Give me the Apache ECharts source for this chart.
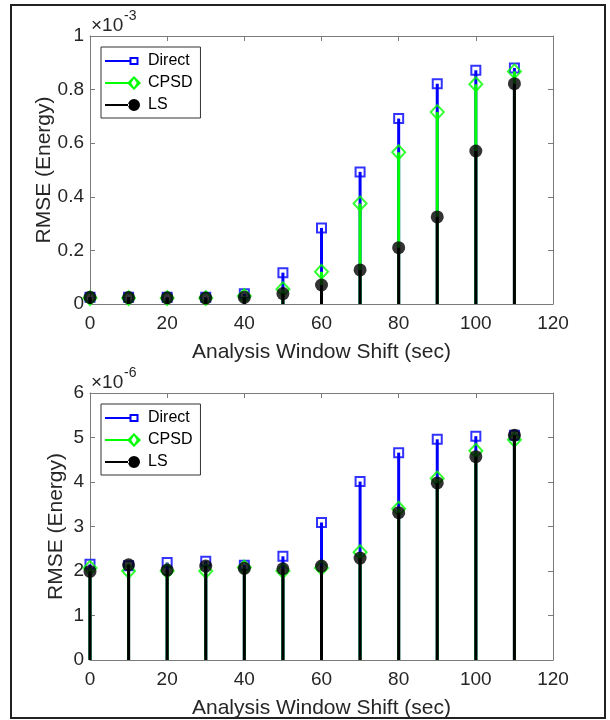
<!DOCTYPE html>
<html>
<head>
<meta charset="utf-8">
<script src="https://cdn.jsdelivr.net/npm/echarts@6/dist/echarts.min.js"></script>
<style>
  html, body { margin: 0; padding: 0; background: #fff; }
  #main { width: 610px; height: 720px; }
</style>
</head>
<body>
<div id="main"></div>
<script>
// analysis window shift (sec)
var shift = [0, 10, 20, 30, 40, 50, 60, 70, 80, 90, 100, 110];

// top panel, RMSE in units of 1e-3
var directTop = [0.025, 0.025, 0.025, 0.025, 0.038, 0.117, 0.284, 0.493, 0.692, 0.822, 0.872, 0.881];
var cpsdTop   = [0.022, 0.022, 0.022, 0.022, 0.03, 0.055, 0.12, 0.375, 0.566, 0.716, 0.82, 0.868];
var lsTop     = [0.025, 0.024, 0.023, 0.022, 0.025, 0.039, 0.071, 0.127, 0.21, 0.325, 0.571, 0.822];

// bottom panel, RMSE in units of 1e-6
var directBot = [2.15, 2.12, 2.19, 2.22, 2.13, 2.33, 3.09, 4.01, 4.66, 4.96, 5.03, 5.05];
var cpsdBot   = [2.07, 2.0, 2.0, 2.0, 2.08, 2.0, 2.07, 2.42, 3.4, 4.08, 4.7, 4.95];
var lsBot     = [1.99, 2.14, 2.02, 2.11, 2.06, 2.05, 2.11, 2.29, 3.31, 3.98, 4.57, 5.05];

var xTicks = [0, 120, 20];      // min, max, step
var yTicksTop = [0, 1, 0.2];
var yTicksBot = [0, 6, 1];

var BLUE = '#0000ff', GREEN = '#00ff00', BLACK = '#000000';
var FONT = 'Liberation Sans';
var AXIS_COL = '#7a7a7a';
var TXT = '#262626';

// legend icons: line + marker, 36x14 box
var iconDirect = 'path://M0,0L0,0M36,14L36,14M0,6L25,6L25,8L0,8Z' +
  'M24.5,3L33.5,3L33.5,11L24.5,11ZM26.5,5L26.5,9L31.5,9L31.5,5Z';
var iconCpsd = 'path://M0,0L0,0M36,14L36,14M0,6L23,6L23,8L0,8Z' +
  'M29,0L36,7L29,14L22,7ZM29,2.8L26.2,7L29,11.2L31.8,7Z';
var iconLs = 'path://M0,0L0,0M36,14L36,14M0,6L24,6L24,8L0,8Z' +
  'M23,7A6,6 0 1,0 35,7A6,6 0 1,0 23,7Z';

function pairs(ys) {
  return shift.map(function (x, i) { return [x, ys[i]]; });
}

function stemSeries(name, ys, color, xi, yi, z) {
  return {
    name: name,
    type: 'custom',
    xAxisIndex: xi,
    yAxisIndex: yi,
    z: z,
    encode: { x: 0, y: 1 },
    data: pairs(ys),
    renderItem: function (params, api) {
      var p0 = api.coord([api.value(0), 0]);
      var p1 = api.coord([api.value(0), api.value(1)]);
      return {
        type: 'line',
        shape: { x1: p0[0], y1: p0[1], x2: p1[0], y2: p1[1] },
        style: { stroke: color, lineWidth: 3 }
      };
    }
  };
}

function markerSeries(name, ys, xi, yi, z, sym, size, style) {
  return {
    name: name,
    type: 'scatter',
    xAxisIndex: xi,
    yAxisIndex: yi,
    z: z,
    symbol: sym,
    symbolSize: size,
    data: pairs(ys),
    itemStyle: style,
    emphasis: { disabled: true }
  };
}

function panelSeries(d, c, l, xi, yi) {
  return [
    stemSeries('Direct', d, BLUE, xi, yi, 2),
    markerSeries('Direct', d, xi, yi, 3, 'rect', 9,
      { color: 'rgba(0,0,0,0)', borderColor: BLUE, borderWidth: 2 }),
    stemSeries('CPSD', c, GREEN, xi, yi, 4),
    markerSeries('CPSD', c, xi, yi, 5, 'path://M0,-1L1,0L0,1L-1,0Z', [13, 14],
      { color: 'rgba(0,0,0,0)', borderColor: GREEN, borderWidth: 2 }),
    stemSeries('LS', l, BLACK, xi, yi, 6),
    markerSeries('LS', l, xi, yi, 7, 'circle', 13, { color: BLACK })
  ];
}

function xAxes(grid) {
  var base = {
    gridIndex: grid, type: 'value',
    min: xTicks[0], max: xTicks[1], interval: xTicks[2],
    axisLine: { onZero: false, lineStyle: { color: AXIS_COL, width: 1 } },
    axisTick: { inside: true, length: 5, lineStyle: { color: AXIS_COL } },
    splitLine: { show: false }
  };
  return [
    Object.assign({}, base, {
      position: 'bottom',
      axisLabel: { fontSize: 19, color: TXT, fontFamily: FONT, margin: 10 },
      name: 'Analysis Window Shift (sec)',
      nameLocation: 'middle', nameGap: 38, nameMoveOverlap: false,
      nameTextStyle: { fontSize: 21, color: TXT, fontFamily: FONT }
    }),
    Object.assign({}, base, { position: 'top', axisLabel: { show: false } })
  ];
}

function yAxes(grid, t, gap) {
  var base = {
    gridIndex: grid, type: 'value',
    min: t[0], max: t[1], interval: t[2],
    axisLine: { show: true, onZero: false, lineStyle: { color: AXIS_COL, width: 1 } },
    axisTick: { show: true, inside: true, length: 5, lineStyle: { color: AXIS_COL } },
    splitLine: { show: false }
  };
  return [
    Object.assign({}, base, {
      position: 'left',
      axisLabel: { fontSize: 19, color: TXT, fontFamily: FONT, margin: 6 },
      name: 'RMSE (Energy)',
      nameLocation: 'middle', nameGap: gap, nameMoveOverlap: false,
      nameTextStyle: { fontSize: 21, color: TXT, fontFamily: FONT }
    }),
    Object.assign({}, base, { position: 'right', axisLabel: { show: false } })
  ];
}

function legendAt(top) {
  return {
    left: 101, top: top, orient: 'vertical',
    selectedMode: false,
    itemWidth: 36, itemHeight: 14, itemGap: 6,
    padding: [6, 8, 5, 4],
    borderColor: '#333', borderWidth: 1, backgroundColor: '#fff',
    textStyle: { fontSize: 16, color: '#000', fontFamily: FONT, padding: [0, 0, 0, 2] },
    data: [
      { name: 'Direct', icon: iconDirect, itemStyle: { color: BLUE, borderWidth: 0 } },
      { name: 'CPSD', icon: iconCpsd, itemStyle: { color: GREEN, borderWidth: 0 } },
      { name: 'LS', icon: iconLs, itemStyle: { color: BLACK, borderWidth: 0 } }
    ]
  };
}

function expText(x, y, exp) {
  return [
    { type: 'text', left: x, top: y,
      style: { text: '\u00d710', font: '19px "' + FONT + '"', fill: TXT } },
    { type: 'text', left: x + 33, top: y - 7,
      style: { text: exp, font: '14px "' + FONT + '"', fill: TXT } }
  ];
}

var chart = echarts.init(document.getElementById('main'), null, { renderer: 'canvas' });
chart.setOption({
  animation: false,
  backgroundColor: '#fff',
  grid: [
    { left: 90, top: 36, width: 463, height: 268 },
    { left: 90, top: 393, width: 463, height: 268 }
  ],
  xAxis: xAxes(0).concat(xAxes(1)),
  yAxis: yAxes(0, yTicksTop, 35).concat(yAxes(1, yTicksBot, 23)),
  legend: [legendAt(47), legendAt(404)],
  graphic: [
    { type: 'rect', shape: { x: 11, y: 5, width: 594, height: 713 },
      style: { fill: 'none', stroke: '#222', lineWidth: 2 }, z: 100 }
  ].concat(expText(91, 16, '-3')).concat(expText(91, 373, '-6')),
  series: panelSeries(directTop, cpsdTop, lsTop, 0, 0)
    .concat(panelSeries(directBot, cpsdBot, lsBot, 2, 2))
});
</script>
</body>
</html>
